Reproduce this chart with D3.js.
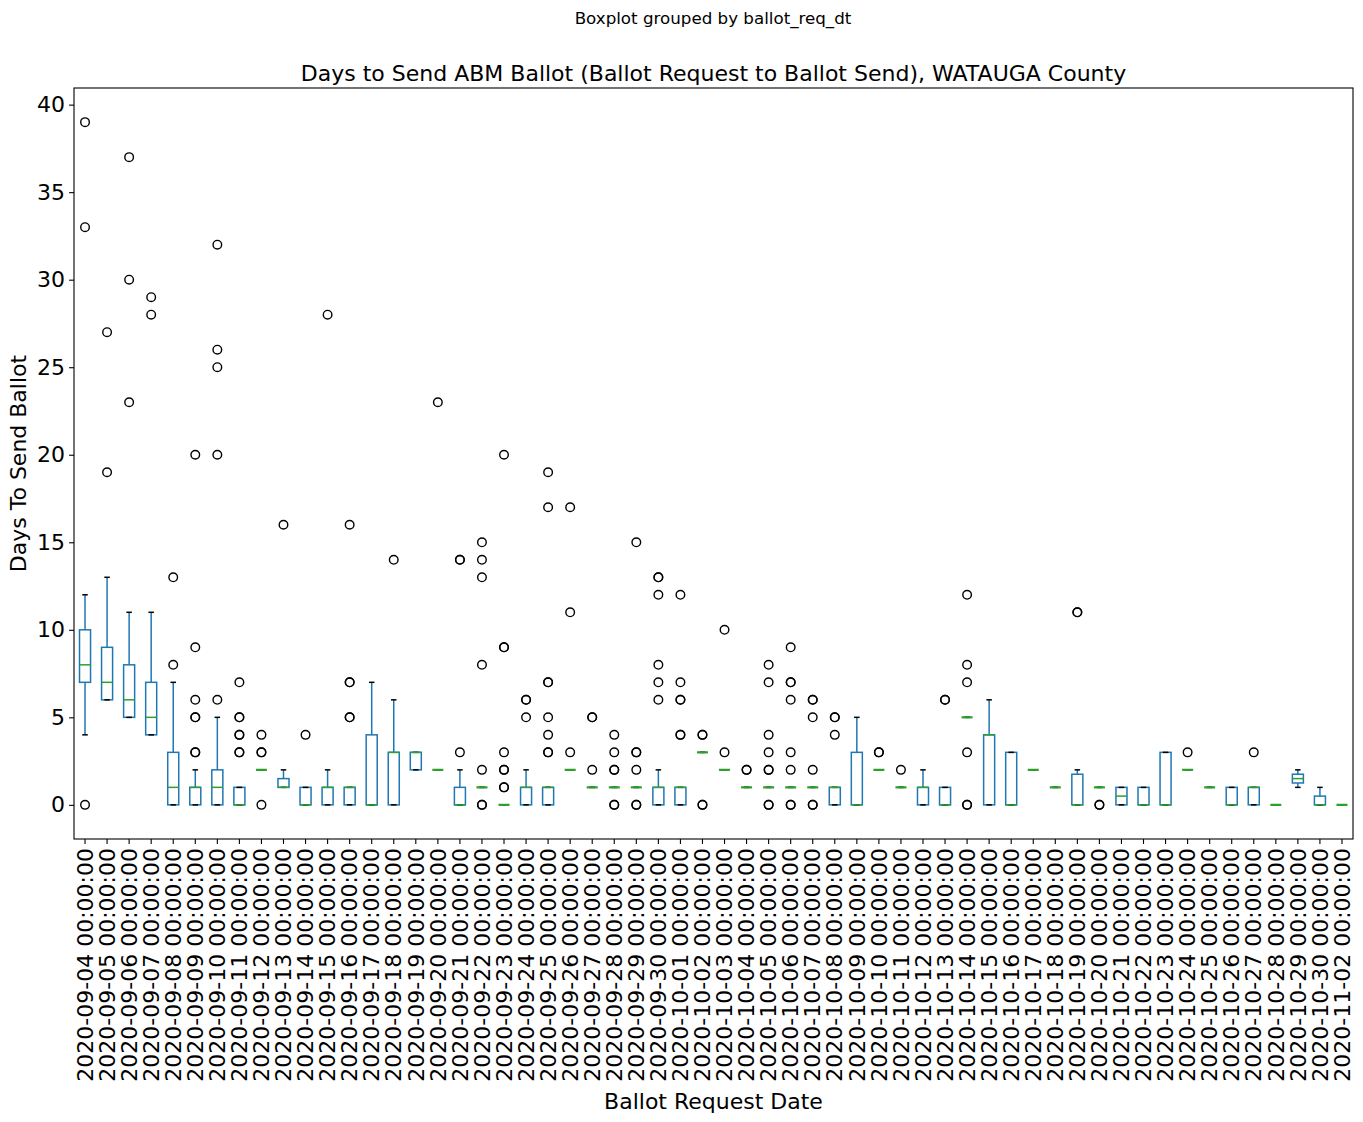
<!DOCTYPE html>
<html>
<head>
<meta charset="utf-8">
<script src="https://cdn.jsdelivr.net/npm/d3@7"></script>
<style>
  body { margin: 0; background: #fff; }
  svg, svg text { font-family: "DejaVu Sans", sans-serif; }
</style>
</head>
<body>
<svg id="chart" width="1363" height="1122"></svg>
<script>
// categories (ballot request dates)
const dates = [
  "2020-09-04","2020-09-05","2020-09-06","2020-09-07","2020-09-08","2020-09-09","2020-09-10",
  "2020-09-11","2020-09-12","2020-09-13","2020-09-14","2020-09-15","2020-09-16","2020-09-17",
  "2020-09-18","2020-09-19","2020-09-20","2020-09-21","2020-09-22","2020-09-23","2020-09-24",
  "2020-09-25","2020-09-26","2020-09-27","2020-09-28","2020-09-29","2020-09-30","2020-10-01",
  "2020-10-02","2020-10-03","2020-10-04","2020-10-05","2020-10-06","2020-10-07","2020-10-08",
  "2020-10-09","2020-10-10","2020-10-11","2020-10-12","2020-10-13","2020-10-14","2020-10-15",
  "2020-10-16","2020-10-17","2020-10-18","2020-10-19","2020-10-20","2020-10-21","2020-10-22",
  "2020-10-23","2020-10-24","2020-10-25","2020-10-26","2020-10-27","2020-10-28","2020-10-29",
  "2020-10-30","2020-11-02"
].map(d => d + " 00:00:00");

// box stats
const q1 = [7,6,5,4,0,0,0,0,2,1,0,0,0,0,0,2,2,0,1,0,0,0,2,1,1,1,0,0,3,2,1,1,1,1,0,0,2,1,0,0,5,0,0,2,1,0,1,0,0,0,2,1,0,0,0,1.25,0,0];
const med = [8,7,6,5,1,1,1,0,2,1,0,1,1,0,3,3,2,0,1,0,1,1,2,1,1,1,1,1,3,2,1,1,1,1,1,0,2,1,1,0,5,4,0,2,1,0,1,0.5,0,0,2,1,0,1,0,1.5,0,0];
const q3 = [10,9,8,7,3,1,2,1,2,1.5,1,1,1,4,3,3,2,1,1,0,1,1,2,1,1,1,1,1,3,2,1,1,1,1,1,3,2,1,1,1,5,4,3,2,1,1.75,1,1,1,3,2,1,1,1,0,1.75,0.5,0];
const whisLo = [4,6,5,4,0,0,0,0,2,1,0,0,0,0,0,2,2,0,1,0,0,0,2,1,1,1,0,0,3,2,1,1,1,1,0,0,2,1,0,0,5,0,0,2,1,0,1,0,0,0,2,1,0,0,0,1,0,0];
const whisHi = [12,13,11,11,7,2,5,1,2,2,1,2,1,7,6,3,2,2,1,0,2,1,2,1,1,1,2,1,3,2,1,1,1,1,1,5,2,1,2,1,5,6,3,2,1,2,1,1,1,3,2,1,1,1,0,2,1,0];
// outliers (repeated values overlap and look bold)
const fliers = [
  [39,33,0],[27,19],[37,30,23],[29,28],[13,8],[20,9,6,5,5,3,3],[32,26,25,20,6],
  [7,5,5,4,4,3,3],[4,3,3,0],[16],[4],[28],[16,7,7,5,5],[],
  [14],[],[23],[14,14,3],[15,14,13,8,2,0,0],[20,9,9,3,2,2,1,1],[6,6,5],
  [19,17,7,7,5,4,3,3],[17,11,3],[5,5,2],[4,3,2,2,0,0],[15,3,3,2,0,0],[13,13,12,8,7,6],[12,7,6,6,4,4],
  [4,4,0,0],[10,3],[2,2],[8,7,4,3,2,2,0,0],[9,7,7,6,3,2,0,0],[6,6,5,2,0,0],[5,5,4],
  [],[3,3],[2],[],[6,6],[12,8,7,3,0,0],[],
  [],[],[],[11,11],[0,0],[],[],
  [],[3],[],[],[3],[],[],
  [],[]
];
const yTicks = [0,5,10,15,20,25,30,35,40];

const margin = { top: 88, right: 10, bottom: 283, left: 74 };
const W = 1363, H = 1122;
const plotW = W - margin.left - margin.right; // 1279
const plotH = H - margin.top - margin.bottom; // 751
const FONT = "DejaVu Sans";

const svg = d3.select("#chart");
const g = svg.append("g").attr("transform", `translate(${margin.left},${margin.top})`);

const x = d3.scaleBand().domain(dates).range([0, plotW]).paddingInner(0).paddingOuter(0);
const y = d3.scaleLinear().domain([-1.95, 40.95]).range([plotH, 0]);

const bw = x.bandwidth();
const boxW = bw * 0.5;
const capW = bw * 0.25;
const cx = d => x(d) + bw / 2;
const lw = 1.5;

dates.forEach((d, i) => {
  const c = cx(d);
  const bg = g.append("g");
  // box
  bg.append("rect")
    .attr("x", c - boxW / 2).attr("y", y(q3[i]))
    .attr("width", boxW).attr("height", Math.max(0, y(q1[i]) - y(q3[i])))
    .attr("fill", "none").attr("stroke", "#1f77b4").attr("stroke-width", lw);
  // whiskers
  bg.append("line").attr("x1", c).attr("x2", c).attr("y1", y(q1[i])).attr("y2", y(whisLo[i]))
    .attr("stroke", "#1f77b4").attr("stroke-width", lw);
  bg.append("line").attr("x1", c).attr("x2", c).attr("y1", y(q3[i])).attr("y2", y(whisHi[i]))
    .attr("stroke", "#1f77b4").attr("stroke-width", lw);
  // caps
  [whisLo[i], whisHi[i]].forEach(v => {
    bg.append("line").attr("x1", c - capW / 2).attr("x2", c + capW / 2)
      .attr("y1", y(v)).attr("y2", y(v))
      .attr("stroke", "#000").attr("stroke-width", lw);
  });
  // median
  bg.append("line").attr("x1", c - boxW / 2).attr("x2", c + boxW / 2)
    .attr("y1", y(med[i])).attr("y2", y(med[i]))
    .attr("stroke", "#2ca02c").attr("stroke-width", q1[i] === q3[i] ? 2.2 : lw);
  // fliers
  bg.selectAll("circle").data(fliers[i]).enter().append("circle")
    .attr("cx", c).attr("cy", v => y(v)).attr("r", 4.3)
    .attr("fill", "none").attr("stroke", "#000").attr("stroke-width", 1.4);
});

// axes
const xAxis = g.append("g").attr("transform", `translate(0,${plotH})`)
  .call(d3.axisBottom(x).tickSizeOuter(0).tickSize(4.9).tickPadding(4));
xAxis.attr("font-family", FONT).attr("font-size", 22);
xAxis.select(".domain").remove();
xAxis.selectAll("line").attr("stroke", "#000").attr("stroke-width", 1.1);
xAxis.selectAll("text")
  .attr("fill", "#000")
  .attr("transform", "rotate(-90)")
  .attr("text-anchor", "end")
  .attr("x", -9).attr("y", 0).attr("dy", "0.35em");

const yAxis = g.append("g")
  .call(d3.axisLeft(y).tickValues(yTicks).tickSizeOuter(0).tickSize(4.9).tickPadding(4));
yAxis.attr("font-family", FONT).attr("font-size", 22);
yAxis.select(".domain").remove();
yAxis.selectAll("line").attr("stroke", "#000").attr("stroke-width", 1.1);
yAxis.selectAll("text").attr("fill", "#000");

// frame
g.append("rect").attr("width", plotW).attr("height", plotH)
  .attr("fill", "none").attr("stroke", "#000").attr("stroke-width", 1.1);

// titles
svg.append("text").attr("x", 713).attr("y", 24).attr("text-anchor", "middle")
  .attr("font-size", 16.7).text("Boxplot grouped by ballot_req_dt");
svg.append("text").attr("x", margin.left + plotW / 2).attr("y", 81).attr("text-anchor", "middle")
  .attr("font-size", 22).text("Days to Send ABM Ballot (Ballot Request to Ballot Send), WATAUGA County");
svg.append("text").attr("x", margin.left + plotW / 2).attr("y", 1109).attr("text-anchor", "middle")
  .attr("font-size", 22).text("Ballot Request Date");
svg.append("text").attr("transform", `translate(26,${margin.top + plotH / 2}) rotate(-90)`)
  .attr("text-anchor", "middle").attr("font-size", 22).text("Days To Send Ballot");
</script>
</body>
</html>
